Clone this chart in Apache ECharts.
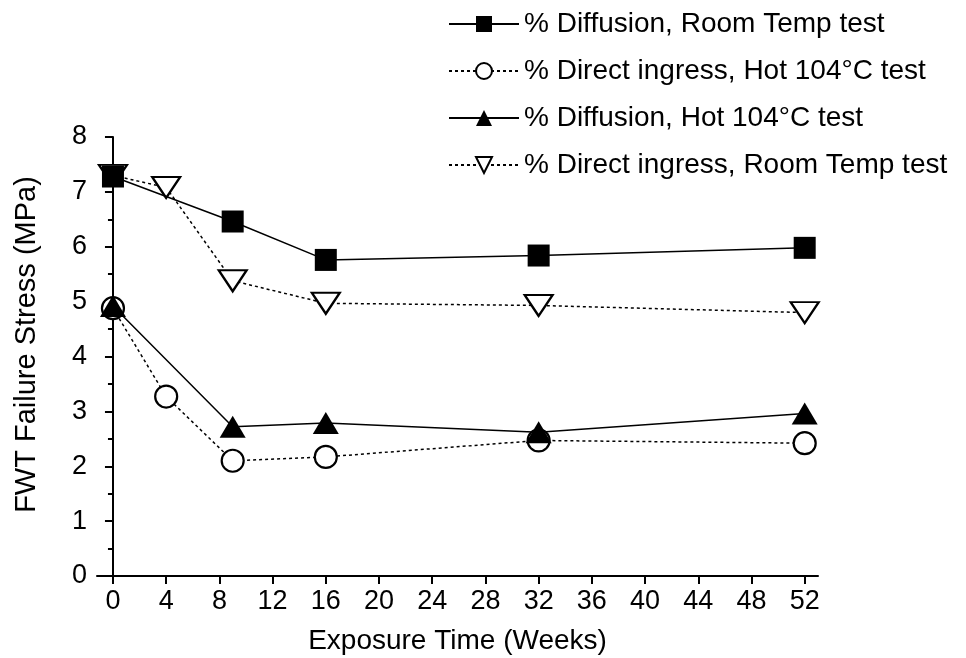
<!DOCTYPE html>
<html>
<head>
<meta charset="utf-8">
<script src="https://cdn.jsdelivr.net/npm/echarts@6/dist/echarts.min.js"></script>
<style>
  html, body { margin: 0; padding: 0; background: #fff; }
  #chart { width: 966px; height: 658px; }
</style>
</head>
<body>
<div id="chart"></div>
<script>
// exposure time in weeks
var weeks = [0, 4, 9, 16, 32, 52];
var weeksNo4 = [0, 9, 16, 32, 52];
var xTicks = [0, 4, 8, 12, 16, 20, 24, 28, 32, 36, 40, 44, 48, 52];

var diffRoom = [7.28, 6.46, 5.76, 5.84, 5.98];
var directHot = [4.88, 3.27, 2.1, 2.17, 2.47, 2.42];
var diffHot = [4.92, 2.72, 2.79, 2.62, 2.96];
var directRoom = [7.3, 7.08, 5.38, 4.97, 4.93, 4.8];

var names = [
  '% Diffusion, Room Temp test',
  '% Direct ingress, Hot 104°C test',
  '% Diffusion, Hot 104°C test',
  '% Direct ingress, Room Temp test'
];

function pairs(xs, ys) {
  return xs.map(function (x, i) { return [x, ys[i]]; });
}

var font = 'Liberation Sans, Arial, sans-serif';
var chart = echarts.init(document.getElementById('chart'));

var hollow = { color: '#fff', borderColor: '#000', borderWidth: 2.2 };
var filled = { color: '#000', borderColor: '#000', borderWidth: 0 };

chart.setOption({
  animation: false,
  textStyle: { fontFamily: font, color: '#000' },
  grid: { left: 97, right: 148, top: 137, bottom: 82, outerBoundsMode: 'none' },
  legend: {
    orient: 'vertical',
    left: 443,
    top: 5,
    itemWidth: 70,
    itemHeight: 20,
    itemGap: 19,
    textStyle: { fontSize: 28, color: '#000', fontFamily: font },
    data: names
  },
  xAxis: {
    type: 'value',
    min: -1.2,
    max: 53,
    name: 'Exposure Time (Weeks)',
    nameLocation: 'middle',
    nameGap: 51,
    nameTextStyle: { fontSize: 28, color: '#000' },
    axisLine: { lineStyle: { color: '#000', width: 2 } },
    axisTick: { show: true, length: 8, lineStyle: { color: '#000', width: 2 }, customValues: xTicks },
    axisLabel: { fontSize: 27, color: '#000', margin: 12, customValues: xTicks },
    splitLine: { show: false }
  },
  yAxis: {
    type: 'value',
    min: 0,
    max: 8,
    interval: 1,
    name: 'FWT Failure Stress (MPa)',
    nameLocation: 'middle',
    nameGap: 56,
    nameTextStyle: { fontSize: 29, color: '#000', padding: [0, 0, 0, 24] },
    axisLine: { show: true, lineStyle: { color: '#000', width: 2 } },
    axisTick: { show: true, length: 8, lineStyle: { color: '#000', width: 2 } },
    minorTick: { show: true, splitNumber: 2, length: 5, lineStyle: { color: '#000', width: 2 } },
    axisLabel: { fontSize: 27, color: '#000', margin: 10 },
    splitLine: { show: false }
  },
  series: [
    {
      name: names[0], type: 'line', data: pairs(weeksNo4, diffRoom),
      symbol: 'rect', symbolSize: 22, itemStyle: filled,
      lineStyle: { color: '#000', width: 1.5, type: 'solid' }, z: 4
    },
    {
      name: names[1], type: 'line', data: pairs(weeks, directHot),
      symbol: 'circle', symbolSize: 22, itemStyle: hollow,
      lineStyle: { color: '#000', width: 1.5, type: [3, 3] }, z: 3
    },
    {
      name: names[2], type: 'line', data: pairs(weeksNo4, diffHot),
      symbol: 'triangle', symbolSize: [26, 22], itemStyle: filled,
      lineStyle: { color: '#000', width: 1.5, type: 'solid' }, z: 4
    },
    {
      name: names[3], type: 'line', data: pairs(weeks, directRoom),
      symbol: 'triangle', symbolRotate: 180, symbolSize: [28, 21], itemStyle: hollow,
      lineStyle: { color: '#000', width: 1.5, type: [3, 3] }, z: 3
    }
  ]
});
</script>
</body>
</html>
